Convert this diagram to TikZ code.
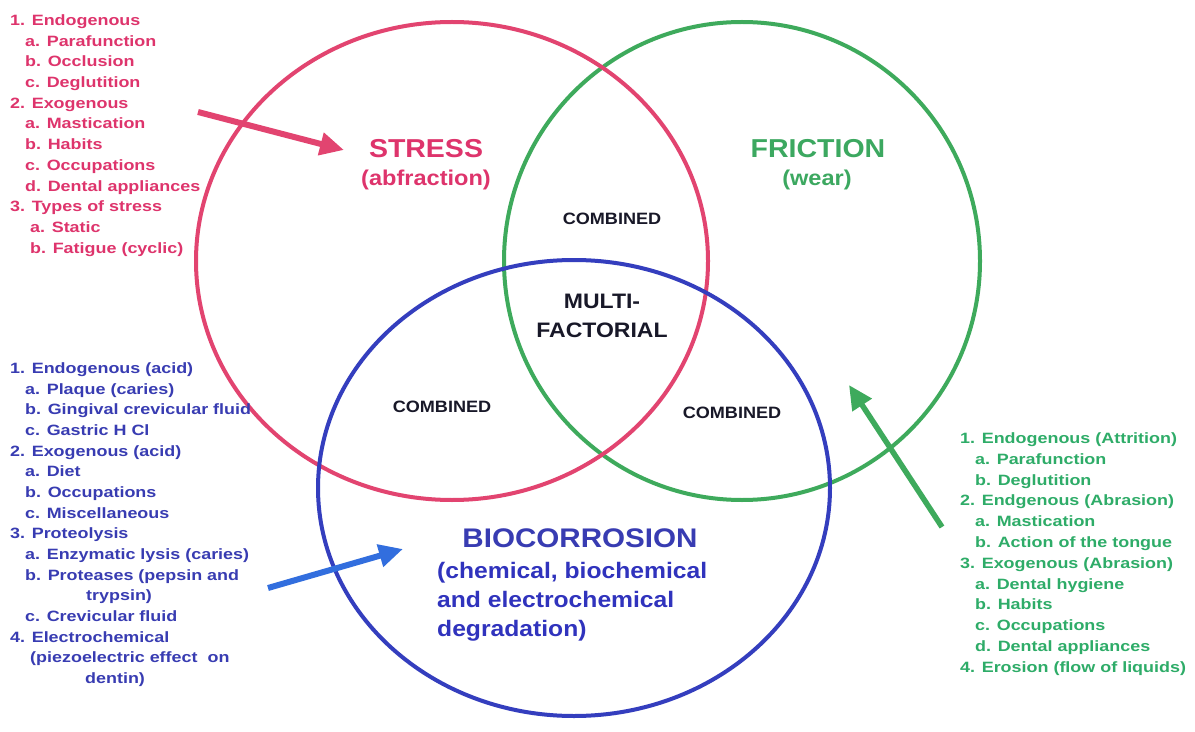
\documentclass[tikz,border=0pt]{standalone}
\usepackage{fontspec}
\setmainfont{Liberation Sans}
\newfontfamily\lf[FakeStretch=1.2]{Liberation Sans}
\newfontfamily\hf[FakeStretch=1.1]{Liberation Sans}
\usetikzlibrary{arrows.meta}
\definecolor{cred}{RGB}{226,68,112}
\definecolor{tred}{RGB}{222,52,108}
\definecolor{cgreen}{RGB}{62,170,92}
\definecolor{tgreen}{RGB}{60,168,96}
\definecolor{lgreen}{RGB}{46,172,104}
\definecolor{cblue}{RGB}{52,62,190}
\definecolor{tblue}{RGB}{56,60,178}
\definecolor{ablue}{RGB}{50,110,222}
\definecolor{dark}{RGB}{24,24,40}
\tikzset{
  ring/.style={line width=4bp},
  listtext/.style={anchor=base west, inner sep=0pt, font=\lf\bfseries\fontsize{15}{18}\selectfont},
  head/.style={anchor=base, inner sep=0pt, font=\hf\bfseries\fontsize{26}{30}\selectfont},
  sub/.style={anchor=base, inner sep=0pt, font=\hf\bfseries\fontsize{21.5}{26}\selectfont},
  comb/.style={anchor=base, inner sep=0pt, text=dark, font=\hf\bfseries\fontsize{16.5}{20}\selectfont},
  multi/.style={anchor=base, inner sep=0pt, text=dark, font=\hf\bfseries\fontsize{21}{25}\selectfont},
  biosub/.style={anchor=base west, inner sep=0pt, text=tblue!85!blue, font=\hf\bfseries\fontsize{22.5}{27}\selectfont},
  bigarrow/.style={line width=6bp, -{Triangle[length=24bp,width=22bp]}},
}
\begin{document}
\begin{tikzpicture}[x=1bp,y=-1bp]
\useasboundingbox (0,0) rectangle (1195,732);
\fill[white] (0,0) rectangle (1195,732);
% circles
\draw[ring, cgreen] (742,261) ellipse [x radius=238, y radius=239];
\draw[ring, cred] (452,261) ellipse [x radius=256, y radius=239];
\draw[ring, cblue] (574,488) ellipse [x radius=256, y radius=228];
% central labels
\node[head, text=tred] (stress) at (426,158) {STRESS};
\node[sub, text=tred] (abfr) at (426,186) {(abfraction)};
\node[head, text=tgreen] (friction) at (818,158) {FRICTION};
\node[sub, text=tgreen] (wear) at (817,186) {(wear)};
\node[comb] (combtop) at (612,225) {COMBINED};
\node[comb] (combleft) at (442,412) {COMBINED};
\node[comb] (combright) at (732,418) {COMBINED};
\node[multi] (multi) at (602,308) {MULTI-};
\node[multi] (factorial) at (602,337) {FACTORIAL};
\node[head, text=tblue, font=\hf\bfseries\fontsize{27}{31}\selectfont] (bio) at (580,547) {BIOCORROSION};
\node[biosub] (bio1) at (437,578) {(chemical, biochemical};
\node[biosub] (bio2) at (437,607) {and electrochemical};
\node[biosub] (bio3) at (437,636) {degradation)};
% red list
\foreach \dx/\t [count=\i] in {0/1. Endogenous, 15/a. Parafunction, 15/b. Occlusion, 15/c. Deglutition,
  0/2. Exogenous, 15/a. Mastication, 15/b. Habits, 15/c. Occupations, 15/d. Dental appliances,
  0/3. Types of stress, 20/a. Static, 20/b. Fatigue (cyclic)}
  {\node[listtext, text=tred] (red\i) at ({10+\dx},{25.5+20.7*(\i-1)}) {\t};}
% blue list
\foreach \dx/\t [count=\i] in {0/1. Endogenous (acid), 15/a. Plaque (caries), 15/b. Gingival crevicular fluid,
  15/c. Gastric H Cl, 0/2. Exogenous (acid), 15/a. Diet, 15/b. Occupations, 15/c. Miscellaneous,
  0/3. Proteolysis, 15/a. Enzymatic lysis (caries), 15/b. Proteases (pepsin and, 76/trypsin),
  15/c. Crevicular fluid, 0/4. Electrochemical, 20/(piezoelectric effect~ on, 75/dentin)}
  {\node[listtext, text=tblue] (blue\i) at ({10+\dx},{373.5+20.67*(\i-1)}) {\t};}
% green list
\foreach \dx/\t [count=\i] in {0/1. Endogenous (Attrition), 15/a. Parafunction, 15/b. Deglutition,
  0/2. Endgenous (Abrasion), 15/a. Mastication, 15/b. Action of the tongue,
  0/3. Exogenous (Abrasion), 15/a. Dental hygiene, 15/b. Habits, 15/c. Occupations,
  15/d. Dental appliances, 0/4. Erosion (flow of liquids)}
  {\node[listtext, text=lgreen] (green\i) at ({960+\dx},{443.5+20.8*(\i-1)}) {\t};}
% arrows
\coordinate (rt) at (198,112);
\coordinate (rh) at (344,150);
\coordinate (bt) at (268,588);
\coordinate (bh) at (403,549);
\coordinate (gt) at (942,527);
\coordinate (gh) at (849,385);
\draw[bigarrow, cred] (rt) -- (rh);
\draw[bigarrow, ablue] (bt) -- (bh);
\draw[bigarrow, cgreen, line width=5.5bp] (gt) -- (gh);
\end{tikzpicture}
\end{document}
